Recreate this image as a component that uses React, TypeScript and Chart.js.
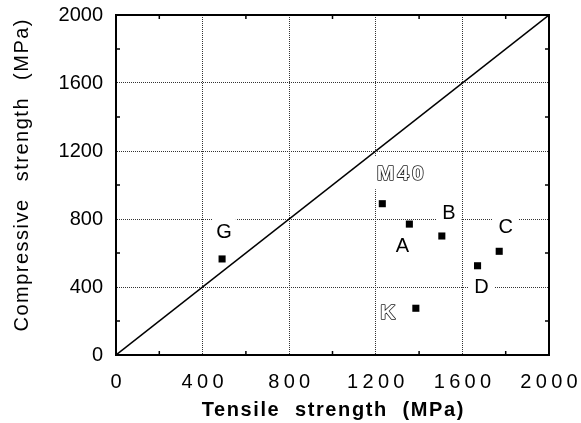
import React, { useEffect, useRef } from 'react';
import { Chart, registerables } from 'chart.js';

Chart.register(...registerables);

// ---- data ----
const SAMPLES = ['G', 'M40', 'A', 'B', 'C', 'D', 'K'];
const TENSILE = [490, 1230, 1355, 1505, 1770, 1670, 1385];
const COMPRESSIVE = [565, 890, 770, 700, 610, 525, 275];
const OUTLINED = [false, true, false, false, false, false, true];
const AXIS_TICKS = [0, 400, 800, 1200, 1600, 2000];
const MINOR_TICKS = [200, 600, 1000, 1400, 1800];
const EQUAL_LINE_X = [0, 2000];
const EQUAL_LINE_Y = [0, 2000];
const X_TITLE = 'Tensile strength (MPa)';
const Y_TITLE = 'Compressive strength (MPa)';

// ---- styling / label placement (pixels, relative to marker) ----
const FONT = '"Liberation Sans", Arial, Helvetica, sans-serif';
const LABEL_OFFSETS = [[2, -28], [18, -31], [-7, 21], [7, -24.5], [6.5, -25.5], [4, 20], [-28, 3]];
const LABEL_PADS = [[4, 5], [6, 9], [4, 4], [6, 4], [6, 4], [6, 4], [3, 4]];

function withSpacing(scale: any, method: string, ls: number, ws: number, dx: number, dy: number) {
  const key = '__patched_' + method;
  if (scale[key]) return;
  scale[key] = true;
  const orig = Object.getPrototypeOf(scale)[method];
  scale[method] = function (...args: any[]) {
    const c = this.ctx;
    c.save();
    c.letterSpacing = ls + 'px';
    c.wordSpacing = ws + 'px';
    c.translate(dx, dy);
    const r = orig.apply(this, args);
    c.restore();
    return r;
  };
}

const decorPlugin = {
  id: 'decor',
  beforeDatasetsDraw(chart: any) {
    const { ctx, scales } = chart;
    const xs = scales.x;
    const ys = scales.y;
    ctx.save();
    ctx.textAlign = 'center';
    ctx.textBaseline = 'alphabetic';
    SAMPLES.forEach((name, i) => {
      const outlined = OUTLINED[i];
      const size = outlined ? 21 : 20;
      const ls = outlined ? 3 : 0;
      ctx.font = (outlined ? 'bold ' : '') + size + 'px ' + FONT;
      ctx.letterSpacing = ls + 'px';
      const cx = xs.getPixelForValue(TENSILE[i]) + LABEL_OFFSETS[i][0];
      const cy = ys.getPixelForValue(COMPRESSIVE[i]) + LABEL_OFFSETS[i][1];
      const w = ctx.measureText(name).width - ls;
      const h = size * 0.72;
      const [px, py] = LABEL_PADS[i];
      ctx.fillStyle = '#fff';
      ctx.fillRect(cx - w / 2 - px, cy - h / 2 - py, w + 2 * px, h + 2 * py);
      const tx = cx + ls / 2;
      const ty = cy + h / 2;
      if (outlined) {
        ctx.lineWidth = 1.6;
        ctx.lineJoin = 'round';
        ctx.strokeStyle = '#222';
        ctx.strokeText(name, tx, ty);
        ctx.fillStyle = '#fff';
        ctx.fillText(name, tx, ty);
      } else {
        ctx.fillStyle = '#000';
        ctx.fillText(name, tx, ty);
      }
    });
    ctx.restore();
  },
  afterDraw(chart: any) {
    const { ctx, chartArea, scales } = chart;
    const { left, right, top, bottom } = chartArea;
    ctx.save();
    ctx.strokeStyle = '#000';
    ctx.lineWidth = 2;
    ctx.beginPath();
    ctx.moveTo(left, top);
    ctx.lineTo(right, top);
    ctx.lineTo(right, bottom);
    ctx.stroke();
    ctx.lineWidth = 1.5;
    ctx.beginPath();
    MINOR_TICKS.forEach((v) => {
      const px = scales.x.getPixelForValue(v);
      ctx.moveTo(px, bottom);
      ctx.lineTo(px, bottom - 4);
      ctx.moveTo(px, top);
      ctx.lineTo(px, top + 4);
      const py = scales.y.getPixelForValue(v);
      ctx.moveTo(left, py);
      ctx.lineTo(left + 4, py);
      ctx.moveTo(right, py);
      ctx.lineTo(right - 4, py);
    });
    ctx.stroke();
    ctx.restore();
  },
};

export default function App() {
  const ref = useRef<HTMLCanvasElement>(null);

  useEffect(() => {
    if (!ref.current) return;
    const chart = new Chart(ref.current, {
      type: 'scatter',
      data: {
        datasets: [
          {
            label: 'samples',
            data: TENSILE.map((t, i) => ({ x: t, y: COMPRESSIVE[i] })),
            pointStyle: 'rect',
            pointRadius: 5,
            pointHoverRadius: 5,
            backgroundColor: '#000',
            borderColor: '#000',
            borderWidth: 0,
          },
          {
            type: 'line',
            label: 'equal',
            data: EQUAL_LINE_X.map((x, i) => ({ x, y: EQUAL_LINE_Y[i] })),
            borderColor: '#000',
            borderWidth: 1.5,
            pointRadius: 0,
            showLine: true,
            fill: false,
          } as any,
        ],
      },
      options: {
        animation: false,
        responsive: false,
        devicePixelRatio: 1,
        layout: { padding: { top: 15, right: 32, left: 0, bottom: 0 } },
        plugins: { legend: { display: false }, tooltip: { enabled: false } },
        scales: {
          x: {
            type: 'linear',
            min: 0,
            max: 2000,
            afterBuildTicks: (s: any) => {
              s.ticks = AXIS_TICKS.map((value) => ({ value }));
            },
            afterFit: (s: any) => {
              s.height = 68;
              s.paddingLeft = 0;
              s.paddingRight = 0;
              s.paddingTop = 0;
              s.paddingBottom = 0;
              withSpacing(s, 'drawLabels', 4.3, 0, 2.15, 0);
              withSpacing(s, 'drawTitle', 1.6, 7.5, 0.8, 0);
            },
            grid: { color: '#333', lineWidth: 1, drawTicks: false },
            border: { display: true, color: '#000', width: 2, dash: [1, 1] },
            ticks: {
              padding: 15,
              color: '#000',
              maxRotation: 0,
              autoSkip: false,
              font: { family: FONT, size: 20 },
              callback: (v: any) => String(v),
            },
            title: {
              display: true,
              text: X_TITLE,
              color: '#000',
              font: { family: FONT, size: 20, weight: 'bold' },
              padding: { top: 0, bottom: 1 },
            },
          },
          y: {
            type: 'linear',
            min: 0,
            max: 2000,
            afterBuildTicks: (s: any) => {
              s.ticks = AXIS_TICKS.map((value) => ({ value }));
            },
            afterFit: (s: any) => {
              s.width = 116;
              s.paddingLeft = 0;
              s.paddingRight = 0;
              s.paddingTop = 0;
              s.paddingBottom = 0;
              withSpacing(s, 'drawTitle', 1.5, 10, 0, 3);
            },
            grid: { color: '#333', lineWidth: 1, drawTicks: false },
            border: { display: true, color: '#000', width: 2, dash: [1, 1] },
            ticks: {
              padding: 13,
              color: '#000',
              autoSkip: false,
              font: { family: FONT, size: 20 },
              callback: (v: any) => String(v),
            },
            title: {
              display: true,
              text: Y_TITLE,
              align: 'end',
              color: '#000',
              font: { family: FONT, size: 20 },
              padding: { top: 10, bottom: 0 },
            },
          },
        },
      } as any,
      plugins: [decorPlugin],
    });
    return () => chart.destroy();
  }, []);

  return (
    <div style={{ position: 'fixed', left: 0, top: 0, width: 581, height: 423, background: '#fff' }}>
      <canvas ref={ref} width={581} height={423} style={{ display: 'block', width: 581, height: 423 }} />
    </div>
  );
}
